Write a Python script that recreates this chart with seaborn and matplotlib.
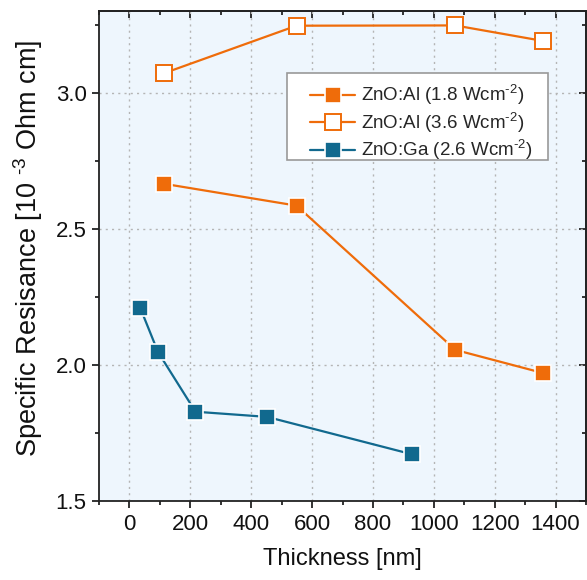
import numpy as np
import pandas as pd
import matplotlib
matplotlib.use("Agg")
import matplotlib.pyplot as plt
import seaborn as sns
from matplotlib.ticker import MultipleLocator
from matplotlib.patches import Rectangle

# data
al18_thickness = [115, 549, 1071, 1359]
al18_resist = [2.665, 2.585, 2.055, 1.97]

al36_thickness = [115, 549, 1070, 1359]
al36_resist = [3.072, 3.246, 3.247, 3.19]

ga26_thickness = [36, 94, 217, 452, 927]
ga26_resist = [2.208, 2.047, 1.828, 1.809, 1.672]

labels = ["ZnO:Al (1.8 Wcm$^{\\text{-2}}$)", "ZnO:Al (3.6 Wcm$^{\\text{-2}}$)", "ZnO:Ga (2.6 Wcm$^{\\text{-2}}$)"]

orange = "#EF6C0A"
blue = "#11698E"
ink = "#111111"

sns.set_style("ticks")
plt.rcParams["font.family"] = ["Liberation Sans", "DejaVu Sans"]
plt.rcParams["mathtext.fontset"] = "custom"
plt.rcParams["mathtext.rm"] = "Liberation Sans"
plt.rcParams["mathtext.it"] = "Liberation Sans"
plt.rcParams["mathtext.default"] = "regular"

fig = plt.figure(figsize=(5.87, 5.80), dpi=100)
ax = fig.add_axes([99 / 587, 79 / 580, 487 / 587, 490 / 580])
ax.set_facecolor("#EEF6FD")

df_a = pd.DataFrame({"t": al18_thickness, "r": al18_resist})
df_b = pd.DataFrame({"t": al36_thickness, "r": al36_resist})
df_c = pd.DataFrame({"t": ga26_thickness, "r": ga26_resist})

sns.lineplot(data=df_a, x="t", y="r", ax=ax, color=orange, lw=1.6, marker="s",
             markersize=12, markerfacecolor=orange, markeredgecolor="white",
             markeredgewidth=1.2, label=labels[0], sort=False)
sns.lineplot(data=df_b, x="t", y="r", ax=ax, color=orange, lw=1.6, marker="s",
             markersize=11, markerfacecolor="white", markeredgecolor=orange,
             markeredgewidth=1.4, label=labels[1], sort=False)
sns.lineplot(data=df_c, x="t", y="r", ax=ax, color=blue, lw=1.6, marker="s",
             markersize=12, markerfacecolor=blue, markeredgecolor="white",
             markeredgewidth=1.2, label=labels[2], sort=False)

ax.set_xlim(-100, 1500)
ax.set_ylim(1.5, 3.3)
ax.xaxis.set_major_locator(MultipleLocator(200))
ax.xaxis.set_minor_locator(MultipleLocator(100))
ax.yaxis.set_major_locator(MultipleLocator(0.5))
ax.yaxis.set_minor_locator(MultipleLocator(0.25))
ax.yaxis.set_major_formatter(matplotlib.ticker.FormatStrFormatter("%.1f"))

ax.grid(True, which="major", ls=(0, (1.5, 3)), color="#B5B5B5", lw=1.0)
ax.tick_params(which="major", direction="out", length=5, width=1.2,
               labelsize=16, colors=ink, pad=4)
ax.tick_params(which="minor", direction="out", length=3, width=1.2, colors=ink)

for s in ax.spines.values():
    s.set_color("#222222")
    s.set_linewidth(1.3)

# mirrored inward ticks on top and right
top = ax.secondary_xaxis("top")
top.xaxis.set_major_locator(MultipleLocator(200))
top.xaxis.set_minor_locator(MultipleLocator(100))
top.tick_params(which="major", direction="in", length=5, width=1.2, labeltop=False, colors=ink)
top.tick_params(which="minor", direction="in", length=3, width=1.2, colors=ink)
top.spines["top"].set_color("#222222")
top.spines["top"].set_linewidth(1.3)
right = ax.secondary_yaxis("right")
right.yaxis.set_major_locator(MultipleLocator(0.5))
right.yaxis.set_minor_locator(MultipleLocator(0.25))
right.tick_params(which="major", direction="in", length=5, width=1.2, labelright=False, colors=ink)
right.tick_params(which="minor", direction="in", length=3, width=1.2, colors=ink)
right.spines["right"].set_color("#222222")
right.spines["right"].set_linewidth(1.3)

ax.set_xlabel("Thickness [nm]", fontsize=17, labelpad=10, color=ink)
ax.set_ylabel("Specific Resisance [10 $^{\\text{-3}}$ Ohm cm]", fontsize=19.5, color=ink)
ax.yaxis.set_label_coords(-0.11, 0.515)

# legend frame (Origin style box with uneven padding)
ax.add_patch(Rectangle((0.386, 0.696), 0.536, 0.1775, transform=ax.transAxes,
                       facecolor="white", edgecolor="#999999", lw=1.2, zorder=4.5))
leg = ax.legend(loc="upper left", bbox_to_anchor=(0.434, 0.853), borderaxespad=0,
                fontsize=13.5, frameon=False, handlelength=2.4,
                handletextpad=0.3, labelspacing=0.18, borderpad=0)
leg.set_zorder(5)

fig.savefig("out.png", dpi=100)
